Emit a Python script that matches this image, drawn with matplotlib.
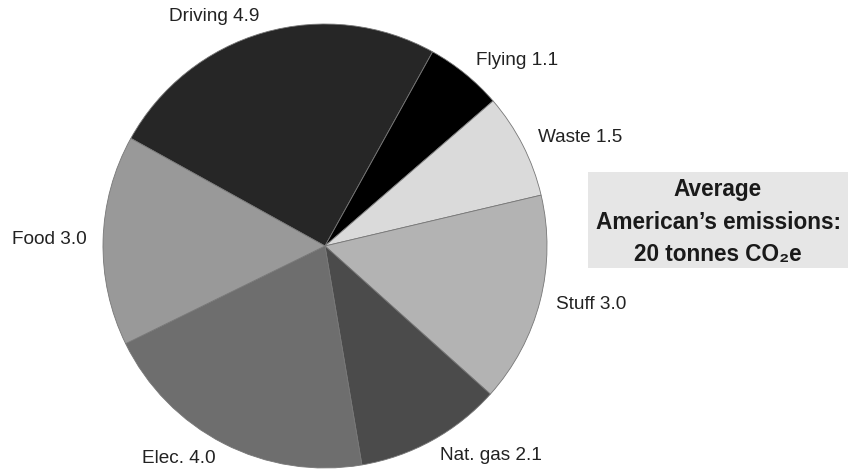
import matplotlib.pyplot as plt
from matplotlib.patches import Rectangle

plt.rcParams['font.family'] = ['Liberation Sans', 'DejaVu Sans']

# emissions per category, tonnes CO2e
categories = ["Driving", "Flying", "Waste", "Stuff", "Nat. gas", "Elec.", "Food"]
values = [4.9, 1.1, 1.5, 3.0, 2.1, 4.0, 3.0]
colors = ["#262626", "#000000", "#dadada", "#b3b3b3", "#4b4b4b", "#6e6e6e", "#999999"]

labels = ["{} {:.1f}".format(c, v) for c, v in zip(categories, values)]

W, H = 850, 474
fig = plt.figure(figsize=(W / 100, H / 100), dpi=100)

cx, cy, r = 325, 246, 222
ax = fig.add_axes([(cx - r) / W, (H - cy - r) / H, 2 * r / W, 2 * r / H])
ax.pie(values, labels=labels, colors=colors, startangle=151, counterclock=False,
       labeldistance=1.075, radius=1,
       wedgeprops=dict(edgecolor="#777777", linewidth=0.6),
       textprops=dict(fontsize=13.7, color="#222222"))
ax.set_xlim(-1, 1)
ax.set_ylim(-1, 1)
ax.set_aspect("equal")
ax.axis("off")

# summary box on the right
bx0, by0, bx1, by1 = 588, 172, 848, 268
fig.patches.append(Rectangle((bx0 / W, 1 - by1 / H), (bx1 - bx0) / W, (by1 - by0) / H,
                             transform=fig.transFigure, facecolor="#e6e6e6",
                             edgecolor="none", zorder=0))
fig.text((bx0 + bx1) / 2 / W, 1 - ((by0 + by1) / 2 + 2) / H,
         "Average\nAmerican\u2019s emissions:\n20 tonnes CO\u2082e",
         ha="center", va="center", fontsize=16.3, fontweight="bold",
         color="#1a1a1a", linespacing=1.55)

fig.savefig("out.png", dpi=100)
